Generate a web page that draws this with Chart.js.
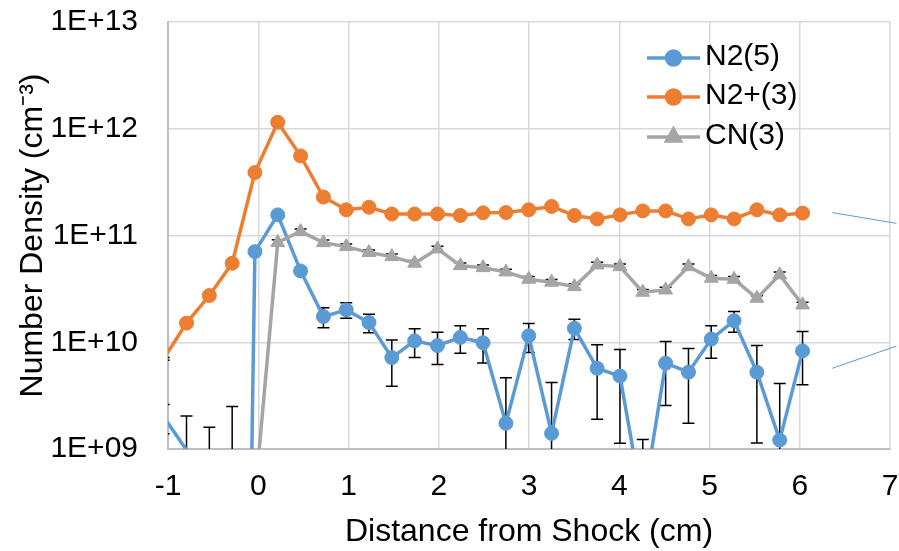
<!DOCTYPE html>
<html>
<head>
<meta charset="utf-8">
<script src="https://cdn.jsdelivr.net/npm/chart.js@4.4.1/dist/chart.umd.min.js"></script>
<style>
  html, body { margin: 0; padding: 0; background: #fff; }
  #wrap { width: 899px; height: 551px; }
</style>
</head>
<body>
<div id="wrap"><canvas id="myChart" width="899" height="551"></canvas></div>
<script>
// distance from shock (cm), one entry per measurement position
const distances = [-1.048, -0.795, -0.542, -0.289, -0.037, 0.216, 0.469, 0.722, 0.975, 1.227,
                   1.480, 1.733, 1.986, 2.239, 2.491, 2.744, 2.997, 3.250, 3.503, 3.755,
                   4.008, 4.261, 4.514, 4.767, 5.019, 5.272, 5.525, 5.778, 6.031];

const n2Values = [2.0e9, 9.8e8, 4e8, 1e-3, 7.06e10, 1.56e11, 4.66e10, 1.74e10, 2.01e10, 1.53e10,
                  7.18e9, 1.03e10, 9.3e9, 1.11e10, 9.9e9, 1.74e9, 1.15e10, 1.40e9, 1.35e10, 5.7e9,
                  4.83e9, 3e8, 6.36e9, 5.24e9, 1.07e10, 1.59e10, 5.24e9, 1.21e9, 8.3e9];
const n2Errors = [6.1e8, 1.06e9, 1.2e9, 2.5e9, 3.5e9, 3.5e9, 3.5e9, 3.7e9, 3.3e9, 3.0e9,
                  3.3e9, 3.1e9, 3.1e9, 3.2e9, 3.5e9, 2.9e9, 3.5e9, 2.8e9, 2.9e9, 3.8e9,
                  3.7e9, 9.3e8, 3.8e9, 3.5e9, 3.6e9, 3.5e9, 4.1e9, 2.9e9, 4.3e9];

const n2pValues = [7.0e9, 1.51e10, 2.74e10, 5.5e10, 3.89e11, 1.15e12, 5.57e11, 2.29e11, 1.74e11, 1.84e11,
                   1.59e11, 1.59e11, 1.59e11, 1.54e11, 1.63e11, 1.64e11, 1.74e11, 1.87e11, 1.54e11, 1.43e11,
                   1.56e11, 1.70e11, 1.70e11, 1.43e11, 1.56e11, 1.43e11, 1.74e11, 1.56e11, 1.62e11];
const n2pErrors = [2e8, 1e9, 1.5e9, 3e9, 2e10, 5e10, 3e10, 1.2e10, 8e9, 8e9,
                   8e9, 8e9, 8e9, 8e9, 8e9, 8e9, 8e9, 8e9, 8e9, 8e9,
                   8e9, 8e9, 8e9, 8e9, 8e9, 8e9, 8e9, 8e9, 8e9];

const cnValues = [null, null, null, null, 3.5e8, 8.6e10, 1.09e11, 8.57e10, 7.87e10, 6.92e10,
                  6.34e10, 5.5e10, 7.49e10, 5.22e10, 5.0e10, 4.56e10, 3.89e10, 3.65e10, 3.32e10, 5.3e10,
                  5.11e10, 2.94e10, 3.09e10, 5.11e10, 3.98e10, 3.89e10, 2.58e10, 4.28e10, 2.24e10];
const cnErrors = [null, null, null, null, 0, 5e9, 6e9, 5e9, 4.5e9, 4e9,
                  3.8e9, 3.3e9, 4.5e9, 3.1e9, 3e9, 2.7e9, 2.3e9, 2.2e9, 2e9, 3.2e9,
                  3.1e9, 1.8e9, 1.9e9, 3.1e9, 2.4e9, 2.3e9, 1.5e9, 2.6e9, 1.3e9];

const seriesNames = ['N2(5)', 'N2+(3)', 'CN(3)'];
const seriesColors = ['#5B9BD5', '#ED7D31', '#A5A5A5'];

const xMin = -1, xMax = 7;
const yTickValues = [1e9, 1e10, 1e11, 1e12, 1e13];
const yTickLabels = ['1E+09', '1E+10', '1E+11', '1E+12', '1E+13'];

// leader lines cut off at the right edge of the picture
const calloutUpper = [{x: 6.36, y: 1.64e11}, {x: 7.07, y: 1.30e11}];
const calloutLower = [{x: 6.36, y: 5.7e9}, {x: 7.07, y: 9.2e9}];

const FONT = "'Liberation Sans', Arial, sans-serif";

function toPoints(values) {
    return distances.map((d, i) => ({x: d, y: values[i]}));
}

const errorBars = {
    id: 'errorBars',
    beforeDatasetsDraw(chart) {
        const {ctx, chartArea, scales} = chart;
        ctx.save();
        ctx.beginPath();
        ctx.rect(chartArea.left, chartArea.top, chartArea.right - chartArea.left, chartArea.bottom - chartArea.top);
        ctx.clip();
        ctx.strokeStyle = '#000';
        ctx.lineWidth = 1.5;
        chart.data.datasets.forEach(ds => {
            if (!ds.errors) return;
            ds.data.forEach((p, i) => {
                const e = ds.errors[i];
                if (p.y == null || e == null || e === 0) return;
                const px = scales.x.getPixelForValue(p.x);
                const top = scales.y.getPixelForValue(p.y + e);
                const low = p.y - e;
                const bot = low > 0 ? scales.y.getPixelForValue(low) : chartArea.bottom + 5;
                ctx.beginPath();
                ctx.moveTo(px, top);
                ctx.lineTo(px, bot);
                ctx.moveTo(px - 6, top);
                ctx.lineTo(px + 6, top);
                if (low > 0) {
                    ctx.moveTo(px - 6, bot);
                    ctx.lineTo(px + 6, bot);
                }
                ctx.stroke();
            });
        });
        ctx.restore();
    }
};

const legendBox = {
    id: 'legendBox',
    afterDraw(chart) {
        const ctx = chart.ctx;
        const rowsY = [58, 97, 137];
        ctx.save();
        for (let i = 0; i < 3; i++) {
            const ds = chart.data.datasets[i];
            const y = rowsY[i];
            ctx.strokeStyle = ds.borderColor;
            ctx.lineWidth = 3.5;
            ctx.beginPath();
            ctx.moveTo(647, y);
            ctx.lineTo(700, y);
            ctx.stroke();
            ctx.fillStyle = ds.pointBackgroundColor;
            ctx.strokeStyle = ds.pointBorderColor;
            Chart.helpers.drawPoint(ctx, {pointStyle: ds.pointStyle, radius: ds.markerSize, rotation: 0, borderWidth: 1}, 673.5, y);
            ctx.fillStyle = '#000';
            ctx.font = '30px ' + FONT;
            ctx.textBaseline = 'middle';
            ctx.textAlign = 'left';
            ctx.fillText(ds.label, 705, y - 1);
        }
        ctx.restore();
    }
};

function seriesDataset(i, values, errors, style, radius, order) {
    return {
        label: seriesNames[i],
        data: toPoints(values),
        errors: errors,
        markerSize: radius,
        borderColor: seriesColors[i],
        backgroundColor: seriesColors[i],
        pointBackgroundColor: seriesColors[i],
        pointBorderColor: seriesColors[i],
        pointStyle: style,
        // like Excel, markers that fall outside the axes are not drawn
        pointRadius: (c) => {
            const p = c.raw;
            if (!p || p.y == null) return 0;
            return (p.x < xMin || p.y < yTickValues[0]) ? 0 : radius;
        },
        pointBorderWidth: 1,
        borderWidth: 3.5,
        tension: 0,
        clip: 0,
        order: order
    };
}

const ctx = document.getElementById('myChart').getContext('2d');
const myChart = new Chart(ctx, {
    type: 'line',
    data: {
        datasets: [
            seriesDataset(0, n2Values, n2Errors, 'circle', 7, 2),
            seriesDataset(1, n2pValues, n2pErrors, 'circle', 7, 1),
            seriesDataset(2, cnValues, cnErrors, 'triangle', 8, 0),
            {
                label: 'callout1', data: calloutUpper, borderColor: '#5B9BD5', borderWidth: 1,
                pointRadius: 0, clip: false, order: 5
            },
            {
                label: 'callout2', data: calloutLower, borderColor: '#5B9BD5', borderWidth: 1,
                pointRadius: 0, clip: false, order: 5
            }
        ]
    },
    options: {
        responsive: false,
        animation: false,
        devicePixelRatio: 1,
        layout: { padding: { top: 22, right: 7, left: 0, bottom: 0 } },
        plugins: {
            legend: { display: false },
            tooltip: { enabled: false }
        },
        scales: {
            x: {
                type: 'linear',
                min: xMin,
                max: xMax,
                ticks: {
                    stepSize: 1,
                    color: '#000',
                    padding: 20,
                    font: { family: FONT, size: 30 }
                },
                grid: { color: '#D9D9D9', lineWidth: 1.5, drawTicks: false },
                border: { color: '#BFBFBF', width: 2 },
                title: {
                    display: true,
                    text: 'Distance from Shock (cm)',
                    color: '#000',
                    font: { family: FONT, size: 32 },
                    padding: { top: 0, bottom: 0 }
                },
                afterFit(s) {
                    s.height = 102;
                    s.paddingLeft = 0;
                    s.paddingRight = 0;
                }
            },
            y: {
                type: 'logarithmic',
                min: 1e9,
                max: 1e13,
                afterBuildTicks(s) {
                    s.ticks = yTickValues.map(v => ({value: v}));
                },
                ticks: {
                    color: '#000',
                    padding: 30,
                    font: { family: FONT, size: 30 },
                    callback: (v) => yTickLabels[yTickValues.indexOf(v)] || ''
                },
                grid: { color: '#D9D9D9', lineWidth: 1.5, drawTicks: false },
                border: { color: '#BFBFBF', width: 2 },
                title: {
                    display: true,
                    text: 'Number Density (cm\u207B\u00B3)',
                    color: '#000',
                    font: { family: FONT, size: 32 },
                    padding: { top: 14, bottom: 0 }
                },
                afterFit(s) {
                    s.width = 168;
                    s.paddingTop = 0;
                    s.paddingBottom = 0;
                }
            }
        }
    },
    plugins: [errorBars, legendBox]
});
</script>
</body>
</html>
